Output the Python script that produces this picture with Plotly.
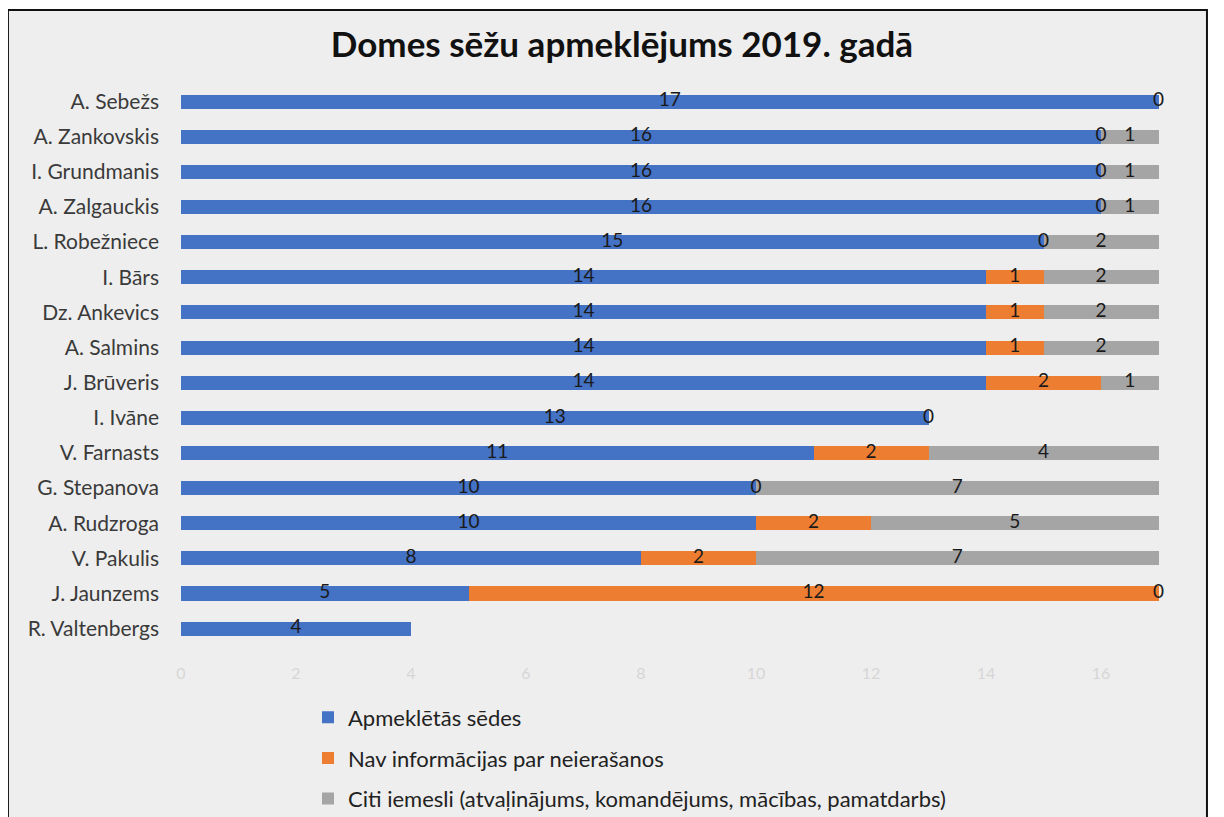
import plotly.graph_objects as go

names = ["A. Sebežs", "A. Zankovskis", "I. Grundmanis", "A. Zalgauckis", "L. Robežniece",
         "I. Bārs", "Dz. Ankevics", "A. Salmins", "J. Brūveris", "I. Ivāne",
         "V. Farnasts", "G. Stepanova", "A. Rudzroga", "V. Pakulis", "J. Jaunzems",
         "R. Valtenbergs"]
attended = [17, 16, 16, 16, 15, 14, 14, 14, 14, 13, 11, 10, 10, 8, 5, 4]
no_info = [0, 0, 0, 0, 0, 1, 1, 1, 2, 0, 2, 0, 2, 2, 12, None]
other = [None, 1, 1, 1, 2, 2, 2, 2, 1, None, 4, 7, 5, 7, 0, None]
xticks = [0, 2, 4, 6, 8, 10, 12, 14, 16]

series = [
    ("Apmeklētās sēdes", attended, "#4472C4"),
    ("Nav informācijas par neierašanos", no_info, "#ED7D31"),
    ("Citi iemesli (atvaļinājums, komandējums, mācības, pamatdarbs)", other, "#A5A5A5"),
]

FONT = "Lato"
fig = go.Figure()
base = [0] * len(names)
label_x, label_y, label_t = [], [], []
for i, (nm, vals, col) in enumerate(series):
    v = [x if x is not None else 0 for x in vals]
    fig.add_trace(go.Bar(
        y=names, x=v, name=nm, orientation="h", marker=dict(color=col, line=dict(width=0)),
        legendgroup=str(i), hoverinfo="x+name",
    ))
    for k, x in enumerate(vals):
        if x is not None:
            label_x.append(base[k] + x / 2)
            label_y.append(names[k])
            label_t.append(str(x))
    base = [b + a for b, a in zip(base, v)]

fig.add_trace(go.Scatter(
    x=label_x, y=label_y, text=label_t, mode="text", showlegend=False,
    textfont=dict(family=FONT, size=19, color="#1a1a1a"), cliponaxis=False, hoverinfo="skip",
))

fig.update_layout(
    template="none",
    barmode="stack",
    bargap=0.6,
    width=1224, height=817,
    margin=dict(l=173, r=39, t=76, b=163, autoexpand=False),
    paper_bgcolor="white",
    plot_bgcolor="rgba(0,0,0,0)",
    title=dict(text="<b>Domes sēžu apmeklējums 2019. gadā</b>", x=0.5016, xref="container",
               xanchor="center", y=0.955, yanchor="middle",
               font=dict(family=FONT, size=35, color="#111111")),
    font=dict(family=FONT),
    xaxis=dict(range=[0, 17.6], tickvals=xticks, showgrid=False, automargin=False,
               zeroline=False, showline=False, ticks="",
               tickfont=dict(family=FONT, size=16, color="#d6d6d6")),
    yaxis=dict(categoryorder="array", categoryarray=names, range=[15.95, -0.5],
               showgrid=False, zeroline=False, ticks="", ticklabelstandoff=21, automargin=False,
               tickfont=dict(family=FONT, size=21, color="#3a3a3a")),
    legend=dict(orientation="v", x=0.1255, y=-0.0597, xanchor="left", yanchor="top",
                traceorder="grouped", tracegroupgap=9, bgcolor="rgba(0,0,0,0)",
                font=dict(family=FONT, size=22, color="#222222")),
    shapes=[dict(type="rect", xref="paper", yref="paper", x0=-0.171, x1=1.0138,
                 y0=-0.35, y1=1.128, line=dict(color="#111111", width=2),
                 fillcolor="#eeeeee", layer="below")],
)

fig.write_html("out.html")
